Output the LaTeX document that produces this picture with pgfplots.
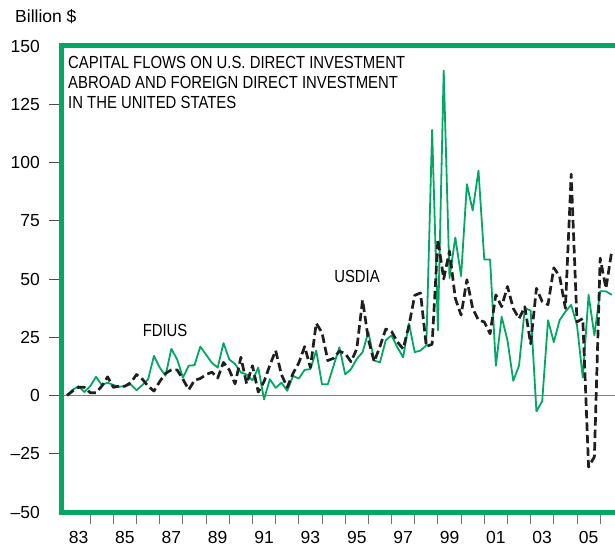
\documentclass[border=0pt]{standalone}
\usepackage{fontspec}
\setmainfont{Liberation Sans}
\newfontfamily\condensed[FakeStretch=0.85]{Liberation Sans}
\usepackage{pgfplots}
\usepackage{pgfplotstable}
\pgfplotsset{compat=1.18}
\definecolor{fgreen}{RGB}{0,168,98}
\pgfplotstableread{
q usdia fdius
0 0 0
1 2 2.5
2 3.5 4
3 3.5 1.5
4 1.2 4
5 1.2 8
6 4 4.5
7 8 5.5
8 3.5 4.5
9 4 3.8
10 4 4
11 5.5 4.8
12 9 2.3
13 7 4.5
14 4 7
15 1.9 17
16 6 12
17 9.5 8.5
18 11 20
19 11 15.5
20 7 7.7
21 2.5 12.8
22 6.5 13
23 7.3 21
24 9 17.5
25 10 14
26 7.5 12
27 14.2 22.5
28 11 15.5
29 5 13.5
30 16.4 9.9
31 5 9
32 12.8 6.5
33 1.5 12
34 6 -1.7
35 13 7
36 19.3 3.3
37 9 5.5
38 3.5 2
39 9.5 8.4
40 14 7.3
41 21 11
42 12 11.3
43 31 19.3
44 27 4.8
45 15 4.8
46 16 12.8
47 19 20.7
48 18 9.1
49 14.5 11.3
50 20 15.7
51 41 18.6
52 24 27.3
53 14.5 15
54 21 14.2
55 28.5 23.7
56 27.5 25.8
57 23 20.7
58 20 16.4
59 30 30.9
60 43 18.6
61 44 19.3
62 21 21.5
63 22 114
64 67 28
65 50 139.5
66 62 50.4
67 41.7 67.8
68 34.5 51.2
69 49.7 90.7
70 37.4 79.4
71 32.3 96.5
72 31.6 58.4
73 26.5 58.4
74 43.2 12.8
75 38.1 33.8
76 46.8 23.7
77 37.4 6.3
78 33 12.8
79 38.1 37.4
80 22.2 36.5
81 46 -6.8
82 40.3 -2.4
83 39 32.3
84 54.8 22.9
85 51.2 32.3
86 37.4 36
87 95 38.9
88 31.6 30.2
89 33 7.7
90 -30.7 43.2
91 -26.3 25.8
92 59 44.7
93 46 44.7
94 62 43.2
}\data
\begin{document}
\begin{tikzpicture}
\begin{axis}[
  scale only axis, width=554pt, height=466pt,
  xmin=1982.74, xmax=2006.64, ymin=-50, ymax=150,
  axis line style={draw=none},
  tick align=outside, tick pos=left,
  major tick length=0pt,
  xtick={1983.5,1985.5,1987.5,1989.5,1991.5,1993.5,1995.5,1997.5,1999.5,2001.5,2003.5,2005.5},
  xticklabels={83,85,87,89,91,93,95,97,99,01,03,05},
  ytick={-50,-25,0,25,50,75,100,125,150},
  yticklabels={\textendash50,\textendash25,0,25,50,75,100,125,150},
  extra x ticks={1984,1985,...,2006}, extra x tick labels={},
  extra x tick style={major tick length=12pt, tick style={black!55, line width=0.9pt}},
  extra y ticks={-25,0,25,50,75,100,125}, extra y tick labels={},
  extra y tick style={major tick length=12pt, tick style={black!70, line width=0.9pt}},
  tick label style={font=\fontsize{17.5}{20}\selectfont, inner sep=0pt},
  xticklabel style={anchor=north, yshift=-19pt},
  yticklabel style={anchor=east, xshift=-21pt},
]
\addplot[black!50, line width=0.8pt, forget plot] coordinates {(1982.74,0) (2006.64,0)};
\addplot[fgreen, line width=1.8pt, line join=round] table[x expr=1983+\thisrow{q}/4, y=fdius]{\data};
\addplot[black!88, line width=2.7pt, dash pattern=on 8.5pt off 4pt, line join=round] table[x expr=1983+\thisrow{q}/4, y=usdia]{\data};
\node[font=\condensed\fontsize{17.5}{20}\selectfont, inner sep=0pt] at (axis cs:1987.23,28.1) {FDIUS};
\node[font=\condensed\fontsize{17.5}{20}\selectfont, inner sep=0pt] at (axis cs:1995.51,50.9) {USDIA};
\coordinate (bl) at (rel axis cs:0,0);
\coordinate (br) at (rel axis cs:1,0);
\coordinate (tl) at (rel axis cs:0,1);
\coordinate (tr) at (rel axis cs:1,1);
\end{axis}
\draw[fgreen, line width=5pt, line join=miter] (tr) -- (tl) -- (bl) -- (br);
\node[anchor=north west, align=left, inner sep=0pt, font=\condensed\fontsize{17.5}{20}\selectfont] at ([shift={(7pt,-10.5pt)}]tl) {CAPITAL FLOWS ON U.S. DIRECT INVESTMENT\\ABROAD AND FOREIGN DIRECT INVESTMENT\\IN THE UNITED STATES};
\node[anchor=west, inner sep=0pt, font=\fontsize{17.5}{20}\selectfont] at ([shift={(-46pt,29pt)}]tl) {Billion \$};
\pgfresetboundingbox
\path ([shift={(-61pt,-34pt)}]bl) rectangle ([shift={(0pt,46pt)}]tr);
\end{tikzpicture}
\end{document}
